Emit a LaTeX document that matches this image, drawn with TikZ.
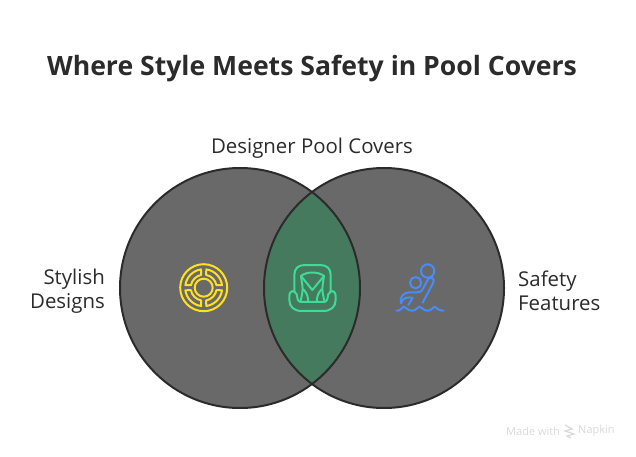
\documentclass[tikz,border=0pt]{standalone}
\usepackage{fontspec}
\setmainfont{Open Sans}
\definecolor{inkc}{HTML}{2B2B2B}
\definecolor{greyc}{HTML}{696969}
\definecolor{lensc}{HTML}{457A5E}
\definecolor{yellowc}{HTML}{FFE11F}
\definecolor{greenc}{HTML}{3DDC97}
\definecolor{bluec}{HTML}{4A8CF7}
\definecolor{markc}{HTML}{D9D9D9}
\tikzset{
  venn/.style={circle,minimum size=240pt,inner sep=0pt,fill=greyc},
  rim/.style={draw=inkc,line width=2pt},
  label/.style={text=inkc,font=\fontsize{20.4}{24}\selectfont,inner sep=0pt},
  icon/.style={line width=2pt,line cap=round,line join=round},
}
\begin{document}
\begin{tikzpicture}[x=1pt,y=1pt]
    \useasboundingbox (0,0) rectangle (636,456);
    % title
    \node[text=inkc,font=\fontsize{26.6}{30}\bfseries\selectfont,inner sep=0pt] (title) at (312,387) {Where Style Meets Safety in Pool Covers};
    % circles
    \node[venn] (stylish) at (240,168) {};
    \node[venn] (safety) at (384,168) {};
    \begin{scope}
        \clip (240,168) circle (120);
        \fill[lensc] (384,168) circle (120);
    \end{scope}
    \draw[rim] (240,168) circle (120);
    \draw[rim] (384,168) circle (120);
    % labels
    \node[label] (top) at (312,308) {Designer Pool Covers};
    \node[label,align=right,anchor=east] (left) at (105,165) {Stylish\\Designs};
    \node[label,align=left,anchor=west] (right) at (518,165) {Safety\\Features};
    % lifebuoy
    \begin{scope}[shift={(203.7,168.3)},icon,draw=yellowc]
        \draw (0,0) circle (23.5);
        \draw (0,0) circle (9);
        \foreach \a in {0,90,180,270}
            \draw ({\a+8}:18.5) arc[start angle=\a+8,end angle=\a+82,radius=18.5] -- ({\a+79}:13) arc[start angle=\a+79,end angle=\a+11,radius=13] -- cycle;
    \end{scope}
    % seat and swimmer, coordinates read off the zoomed crop
    \begin{scope}[shift={(160,216)},x=0.3333pt,y=-0.3333pt,icon,draw=greenc]
        \draw (403,155) -- (403,105) .. controls (403,85) and (415,75) .. (435,75) -- (480,75) .. controls (500,75) and (512,85) .. (512,105) -- (512,155);
        \draw (403,155) .. controls (395,150) and (388,158) .. (388,168) -- (388,180) .. controls (388,200) and (402,213) .. (425,213) -- (490,213) .. controls (513,213) and (527,200) .. (527,180) -- (527,168) .. controls (527,158) and (520,150) .. (512,155);
        \draw (403,155) .. controls (410,160) and (412,165) .. (412,172) .. controls (412,182) and (418,186) .. (428,186) -- (487,186) .. controls (497,186) and (503,182) .. (503,172) .. controls (503,165) and (505,160) .. (512,155);
        \draw (423,108) .. controls (440,94) and (475,94) .. (492,108) -- (488,135) .. controls (485,150) and (490,170) .. (494,186);
        \draw (423,108) -- (427,135) .. controls (430,150) and (425,170) .. (421,186);
        \draw (423,108) -- (457,150) -- (492,108);
        \draw (430,148) .. controls (440,158) and (446,172) .. (444,186);
        \draw (485,148) .. controls (475,158) and (469,172) .. (471,186);
    \end{scope}
    \begin{scope}[shift={(160,216)},x=0.3333pt,y=-0.3333pt,icon,draw=bluec]
        \draw (803,93) circle (20);
        \draw (767,128) circle (17);
        \draw (788,188) -- (820,128) .. controls (826,115) and (810,105) .. (803,120) -- (787,150) .. controls (783,156) and (778,157) .. (770,157) -- (748,157) .. controls (730,157) and (718,172) .. (723,190);
        \draw (723,190) .. controls (728,172) and (745,170) .. (758,174) -- (745,195);
        \draw (710,212) .. controls (722,214) and (724,202) .. (731,200) .. controls (738,202) and (745,213) .. (757,212) .. controls (769,211) and (772,202) .. (778,200) .. controls (785,202) and (792,213) .. (804,212) .. controls (815,211) and (818,202) .. (824,200) .. controls (830,204) and (838,213) .. (850,212);
    \end{scope}
    % watermark
    \node[text=markc,font=\fontsize{11}{13}\selectfont,inner sep=0pt,anchor=west] (made) at (506,25) {Made with};
    \node[text=markc,font=\fontsize{11}{13}\selectfont,inner sep=0pt,anchor=west] (napkin) at (578,25) {Napkin};
    \draw[markc,line width=1.2pt] (565,31) -- (572,27) -- (565,25) -- (574,22) -- (567,20) -- (571,18);
\end{tikzpicture}
\end{document}
